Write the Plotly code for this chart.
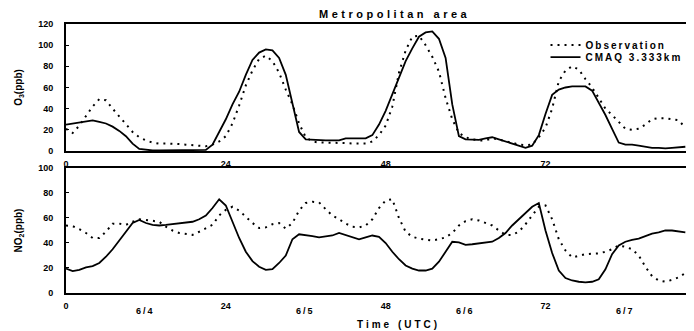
import plotly.graph_objects as go
from plotly.subplots import make_subplots

hours = list(range(94))

o3_obs = [21, 17, 24, 33, 42, 49, 48, 40, 33, 26, 18, 13, 10, 8, 7, 7, 7, 6.5, 6, 5.5,
          4.5, 4.5, 6, 9, 14, 26, 43, 62, 76, 87, 90, 85, 74, 58, 44, 26, 13, 9, 8, 8,
          8, 8, 7.5, 7, 7, 7, 9, 15, 24, 42, 74, 95, 108, 109, 100, 89, 75, 50, 30, 17,
          13, 11, 10, 10, 12, 11, 9, 8, 6, 5.5, 6, 13, 22, 40, 66, 76, 80, 77, 68, 60,
          50, 40, 34, 27, 21, 20, 21, 25, 30, 31, 31, 30, 29, 22]

o3_cmaq = [25, 26, 27, 28, 29, 27.5, 26, 23, 19, 14, 7, 2, 1, 0.5, 0.5, 0.5, 0.5, 0.5, 0.5, 0.5,
           0.5, 1, 6, 18, 30, 44, 56, 72, 86, 93, 96, 95, 88, 72, 44, 18, 11, 10.5, 10, 10,
           10, 10, 12, 12, 11.5, 12, 15, 25, 38, 54, 70, 85, 97, 108, 112, 113, 106, 88, 44, 14,
           11, 10.5, 10.5, 12, 13, 11, 9, 7, 5, 3, 5, 15, 35, 53, 58, 60, 61, 61, 61, 57,
           46, 34, 21, 8, 6, 6, 5, 4, 3, 3, 2.5, 3, 3.5, 4]

no2_obs = [54, 53.5, 51, 48, 44, 44, 49, 55.5, 55.5, 54.5, 57, 59, 58.5, 58, 57, 53, 50, 48, 47, 46.5,
           49, 52, 54.5, 62, 66.5, 69, 66, 61, 56, 52, 52.5, 55, 56, 51.5, 56, 66, 72, 73, 72.5, 67,
           62, 59, 55.5, 53, 52.5, 54, 59, 68, 74, 75, 60, 49, 45, 43.5, 42.5, 42, 43, 44.5, 48, 54,
           57.5, 59, 58, 56, 54, 50, 46.5, 46.5, 49, 55, 62, 69, 70, 59, 43, 34, 28.5, 30, 31, 31.5,
           31.7, 33, 35, 38, 37, 35, 30, 21, 13.5, 10, 9, 10.5, 12.5, 16]

no2_cmaq = [19.5, 17.5, 18.5, 20.5, 21.5, 24, 29, 35, 42, 49, 56, 58.5, 56, 54.5, 54, 54.5, 55, 55.5, 56, 57,
            59, 62, 68, 75, 70, 57, 44, 33, 25.5, 21, 18.5, 19, 24, 30, 43, 47, 46.5, 45.5, 44.5, 45,
            46, 48, 46.5, 45, 43, 44.5, 46, 45, 40, 33, 27, 22, 19.5, 18, 18, 19.5, 25, 33, 41, 40.5,
            38.5, 39, 39.5, 40, 41, 44, 48, 54, 59, 64, 69, 72, 50, 32, 18, 12, 10, 9, 8.5, 9,
            11, 19, 31, 38, 41, 42.5, 43.5, 45.5, 47.5, 48.5, 50, 50, 49.5, 48.5]

hour_ticks = [0, 24, 48, 72]
day_pos = [12, 36, 60, 84]
day_labels = ["6/4", "6/5", "6/6", "6/7"]

FONT = "Liberation Sans"
LS = "letter-spacing:2px"

# page body has an 8px default margin; size the figure so it fits the window
W, H = 686, 323

fig = make_subplots(rows=2, cols=1)

fig.add_trace(go.Scatter(x=hours, y=o3_obs, mode="lines", legend="legend",
                         name='<span style="letter-spacing:2px">Observation</span>',
                         line=dict(color="black", width=2, dash="2px,5px")), row=1, col=1)
fig.add_trace(go.Scatter(x=hours, y=o3_cmaq, mode="lines", legend="legend2",
                         name='<span style="letter-spacing:2px">CMAQ 3.333km</span>',
                         line=dict(color="black", width=1.8)), row=1, col=1)
fig.add_trace(go.Scatter(x=hours, y=no2_obs, mode="lines", showlegend=False,
                         line=dict(color="black", width=2, dash="2px,5px")), row=2, col=1)
fig.add_trace(go.Scatter(x=hours, y=no2_cmaq, mode="lines", showlegend=False,
                         line=dict(color="black", width=1.8)), row=2, col=1)

tickfont = dict(family=FONT, size=9, color="black", weight="bold")
xcommon = dict(range=[0, 94], tickvals=hour_ticks, ticktext=[str(t) for t in hour_ticks],
               showline=True, linewidth=2, linecolor="black", mirror=True,
               showgrid=False, zeroline=False, ticks="", tickfont=tickfont, ticklabelstandoff=3)
fig.update_xaxes(**xcommon, row=1, col=1)
fig.update_xaxes(**xcommon, row=2, col=1)

ycommon = dict(showline=True, linewidth=2, linecolor="black", showgrid=False, zeroline=False,
               ticks="inside", ticklen=3, tickwidth=1, tickcolor="black", tickfont=tickfont,
               ticklabelstandoff=9)
fig.update_yaxes(range=[0, 120], dtick=20, domain=[0.5279, 1.0], **ycommon, row=1, col=1)
fig.update_yaxes(range=[0, 100], dtick=20, domain=[0.0, 0.4647], **ycommon, row=2, col=1)

ytitle_font = dict(family=FONT, size=10, color="black", weight="bold")
fig.update_yaxes(title=dict(text="O<sub>3</sub>(ppb)", font=ytitle_font, standoff=14), row=1, col=1)
fig.update_yaxes(title=dict(text="NO<sub>2</sub>(ppb)", font=ytitle_font, standoff=14), row=2, col=1)

annotations = []
for p, lab in zip(day_pos, day_labels):
    annotations.append(dict(x=p, y=0, xref="x2", yref="paper", text=f'<span style="{LS}">{lab}</span>',
                            showarrow=False, yanchor="top", yshift=-11,
                            font=dict(family=FONT, size=9, color="black", weight="bold")))
annotations.append(dict(x=50, y=0, xref="x2", yref="paper",
                        text='<span style="letter-spacing:3px">Time (UTC)</span>',
                        showarrow=False, yanchor="top", yshift=-24,
                        font=dict(family=FONT, size=10, color="black", weight="bold")))
annotations.append(dict(x=0.525, y=1, xref="paper", yref="paper",
                        text='<span style="letter-spacing:3.5px">Metropolitan area</span>',
                        showarrow=False, yanchor="bottom", yshift=2,
                        font=dict(family=FONT, size=11, color="black", weight="bold")))

legend_font = dict(family=FONT, size=10, color="black", weight="bold")
fig.update_layout(
    width=W, height=H,
    margin=dict(l=58, r=2, t=16, b=38),
    plot_bgcolor="white", paper_bgcolor="white",
    annotations=annotations,
    legend=dict(x=0.766, y=0.922, xanchor="left", yanchor="middle", bgcolor="rgba(0,0,0,0)",
                font=legend_font, itemwidth=30),
    legend2=dict(x=0.766, y=0.877, xanchor="left", yanchor="middle", bgcolor="rgba(0,0,0,0)",
                 font=legend_font, itemwidth=30),
)

fig.write_html("out.html")
